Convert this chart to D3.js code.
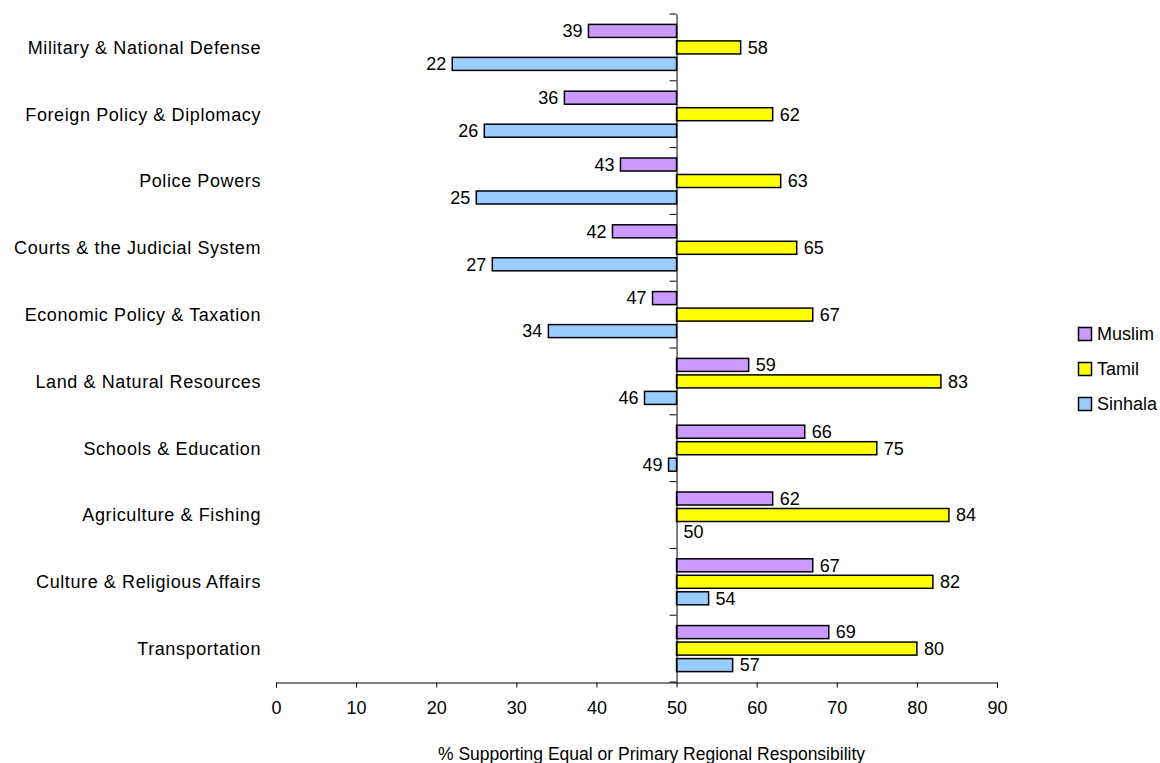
<!DOCTYPE html>
<html><head><meta charset="utf-8">
<script src="https://cdn.jsdelivr.net/npm/d3@7"></script>
<style>body{margin:0;background:#fff}svg{display:block;font-family:"Liberation Sans",Arial,sans-serif}</style>
</head><body><svg id="c" width="1160" height="763"></svg>
<script>
const categories = ["Military & National Defense","Foreign Policy & Diplomacy","Police Powers","Courts & the Judicial System","Economic Policy & Taxation","Land & Natural Resources","Schools & Education","Agriculture & Fishing","Culture & Religious Affairs","Transportation"];
const seriesNames = ["Muslim","Tamil","Sinhala"];
const muslim = [39,36,43,42,47,59,66,62,67,69];
const tamil = [58,62,63,65,67,83,75,84,82,80];
const sinhala = [22,26,25,27,34,46,49,50,54,57];
const xTicks = [0,10,20,30,40,50,60,70,80,90];
const baseline = 50;
const colors = {Muslim:"#CC99FF", Tamil:"#FFFF00", Sinhala:"#99CCFF"};
const values = {Muslim:muslim, Tamil:tamil, Sinhala:sinhala};

const svg = d3.select("#c");
const x = d3.scaleLinear().domain([0,90]).range([276,997]);
const y = d3.scaleBand().domain(categories).range([14,682]).padding(0);
const yi = d3.scaleBand().domain(seriesNames).range([0,y.bandwidth()]).paddingInner(0.21).paddingOuter(0.63);

const data = [];
categories.forEach((c,i)=>seriesNames.forEach(s=>data.push({c,s,v:values[s][i]})));

svg.selectAll("rect.bar").data(data).join("rect").attr("class","bar")
  .attr("x",d=>Math.min(x(d.v),x(baseline)))
  .attr("width",d=>Math.abs(x(d.v)-x(baseline)))
  .attr("y",d=>y(d.c)+yi(d.s))
  .attr("height",yi.bandwidth())
  .attr("fill",d=>colors[d.s]).attr("stroke","#000").attr("stroke-width",1.5);

svg.selectAll("text.val").data(data).join("text").attr("class","val")
  .attr("x",d=>d.v<baseline? x(d.v)-6 : x(d.v)+7)
  .attr("y",d=>y(d.c)+yi(d.s)+yi.bandwidth()/2)
  .attr("dy","0.35em")
  .attr("text-anchor",d=>d.v<baseline?"end":"start")
  .attr("font-size",18).text(d=>d.v);

// x axis
const xa = svg.append("g").attr("transform","translate(0,682.5)")
  .call(d3.axisBottom(x).tickValues(xTicks).tickSize(5).tickPadding(14));
xa.select(".domain").attr("stroke","#000");
xa.selectAll("line").attr("stroke","#000");
xa.selectAll("text").attr("font-size",18).attr("font-family","Liberation Sans, Arial, sans-serif").attr("fill","#000");

// y axis at baseline
const ya = svg.append("g").attr("transform",`translate(${x(baseline)},0)`)
  .call(d3.axisLeft(y).tickSize(0).tickFormat(""));
ya.select(".domain").attr("stroke","#000");
const bounds = categories.map(c=>y(c)).concat([682]);
svg.selectAll("line.yt").data(bounds).join("line").attr("class","yt")
  .attr("x1",x(baseline)-7).attr("x2",x(baseline)).attr("y1",d=>d).attr("y2",d=>d).attr("stroke","#000");

svg.selectAll("text.cat").data(categories).join("text").attr("class","cat")
  .attr("x",261).attr("y",d=>y(d)+y.bandwidth()/2).attr("dy","0.35em")
  .attr("text-anchor","end").attr("font-size",18).attr("letter-spacing",0.6).text(d=>d);

svg.append("text").attr("x",438).attr("y",754).attr("dy","0.35em").attr("text-anchor","start")
  .attr("font-size",17.5).text("% Supporting Equal or Primary Regional Responsibility");

const lg = svg.append("g");
seriesNames.forEach((s,i)=>{
  const yy = 334 + i*35;
  lg.append("rect").attr("x",1078.5).attr("y",yy-6.5).attr("width",13).attr("height",13).attr("fill",colors[s]).attr("stroke","#000").attr("stroke-width",1.5);
  lg.append("text").attr("x",1097).attr("y",yy).attr("dy","0.35em").attr("font-size",18).text(s);
});
</script></body></html>
